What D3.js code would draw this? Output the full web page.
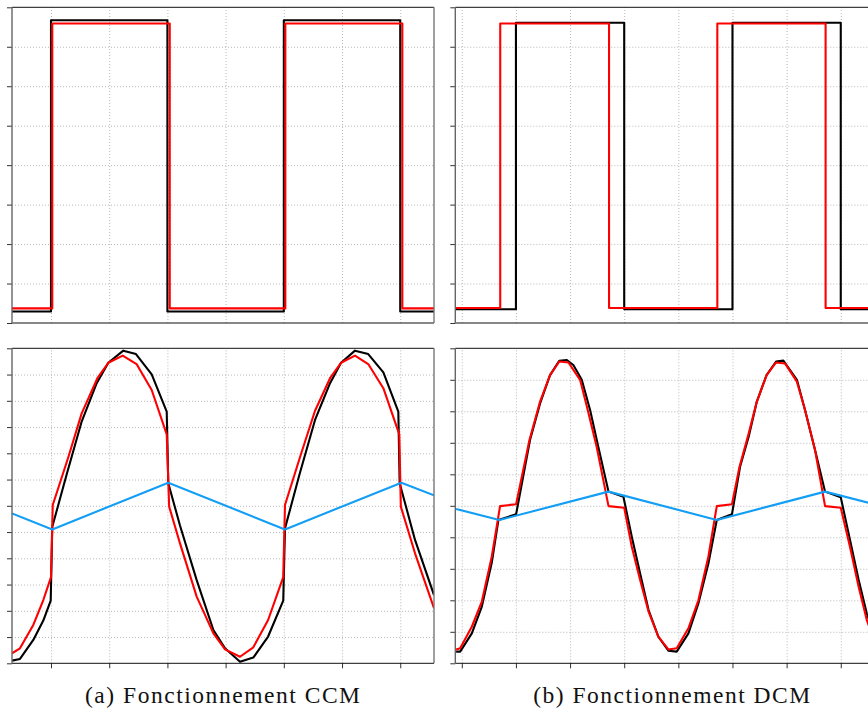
<!DOCTYPE html>
<html>
<head>
<meta charset="utf-8">
<script src="https://cdnjs.cloudflare.com/ajax/libs/d3/7.8.5/d3.min.js"></script>
<style>
  body { margin: 0; background: #fff; }
  .grid line { stroke: #b8b8b8; stroke-width: 1; stroke-dasharray: 1,2; }
  .grid path { display: none; }
  .tk line { stroke: #333; }
  .tk path { display: none; }
  .caption { font-family: "Liberation Serif", "DejaVu Serif", serif; font-size: 23.5px; fill: #111; }
</style>
</head>
<body>
<svg id="fig" width="868" height="711"></svg>
<script>
// gate signals (top row) : [t, v]
var ccmGateBlack = [[-0.67,0.29],[0,0.29],[0,7.67],[2,7.67],[2,0.29],[4,0.29],[4,7.67],[6,7.67],[6,0.29],[6.58,0.29]];
var ccmGateRed = [[-0.67,0.37],[0.022,0.37],[0.022,7.59],[2.04,7.59],[2.04,0.37],[4.026,0.37],[4.026,7.59],[6.036,7.59],[6.036,0.37],[6.58,0.37]];
var dcmGateBlack = [[-0.12,0.35],[1,0.35],[1,7.61],[3,7.61],[3,0.35],[5,0.35],[5,7.61],[7,7.61],[7,0.35],[7.68,0.35]];
var dcmGateRed = [[-0.12,0.38],[0.71,0.38],[0.71,7.59],[2.72,7.59],[2.72,0.38],[4.72,0.38],[4.72,7.59],[6.72,7.59],[6.72,0.38],[7.68,0.38]];

// currents (bottom row)
var ccmBlack = [[-0.67,0.10],[-0.533,0.165],[-0.304,0.89],[-0.132,1.63],[-0.005,2.39],[0.022,5.2],[0.27,7.2],[0.527,9.21],
  [0.785,10.67],[0.985,11.45],[1.242,11.91],[1.46,11.78],[1.73,11.01],[1.988,9.59],[2.015,6.86],[2.216,5.25],[2.503,3.17],
  [2.79,1.27],[2.99,0.57],[3.247,0.06],[3.476,0.22],[3.73,1.02],[3.99,2.39],[4.02,5.14],[4.27,7.2],[4.536,9.27],[4.794,10.67],
  [4.983,11.45],[5.223,11.91],[5.45,11.78],[5.71,11.08],[5.967,9.59],[5.99,6.86],[6.254,4.7],[6.58,2.6]];
var ccmRed = [[-0.67,0.38],[-0.533,0.57],[-0.304,1.46],[-0.132,2.41],[0,3.28],[0.03,6.03],[0.3,7.87],[0.527,9.52],
  [0.797,10.86],[0.985,11.45],[1.232,11.72],[1.47,11.4],[1.73,10.41],[1.988,8.72],[2.03,5.97],[2.216,4.57],[2.503,2.54],
  [2.79,1.14],[2.99,0.53],[3.247,0.25],[3.476,0.61],[3.73,1.65],[3.99,3.28],[4.02,6.03],[4.28,7.87],[4.536,9.62],[4.794,10.86],
  [4.983,11.45],[5.223,11.72],[5.45,11.4],[5.71,10.48],[5.984,8.72],[6.01,5.97],[6.254,4.19],[6.58,2.1]];
var ccmTri = [[-0.67,5.71],[0.022,5.10],[2.015,6.88],[4.02,5.10],[6.02,6.88],[6.58,6.4]];

var dcmBlack = [[-0.105,0.37],[-0.03,0.37],[0.185,0.95],[0.37,1.8],[0.554,3.2],[0.676,4.55],[1.003,4.73],[1.26,7.09],
  [1.446,8.25],[1.63,9.15],[1.80,9.6],[1.94,9.63],[2.06,9.47],[2.216,9.0],[2.37,8.04],[2.52,6.88],[2.71,5.45],[2.985,5.29],
  [3.14,4.02],[3.293,2.86],[3.45,1.69],[3.63,0.85],[3.816,0.40],[3.97,0.37],[4.186,0.95],[4.37,1.9],[4.555,3.17],[4.71,4.55],
  [4.99,4.73],[5.14,6.24],[5.3,7.2],[5.45,8.31],[5.63,9.15],[5.805,9.58],[5.94,9.61],[6.19,9.0],[6.34,8.04],[6.525,6.77],
  [6.71,5.45],[7.0,5.27],[7.17,3.92],[7.33,2.65],[7.48,1.59],[7.6,0.95]];
var dcmRed = [[-0.105,0.44],[-0.03,0.48],[0.185,1.16],[0.37,1.96],[0.554,3.39],[0.707,4.99],[1.003,5.05],[1.25,7.09],
  [1.446,8.31],[1.63,9.15],[1.80,9.58],[1.97,9.55],[2.185,9.0],[2.31,8.15],[2.49,6.88],[2.71,4.99],[3.0,4.94],
  [3.14,3.70],[3.293,2.65],[3.45,1.64],[3.63,0.85],[3.816,0.44],[3.97,0.48],[4.186,1.11],[4.37,2.0],[4.555,3.39],[4.71,4.99],
  [4.99,5.05],[5.13,6.24],[5.3,7.3],[5.45,8.31],[5.63,9.15],[5.805,9.55],[5.97,9.52],[6.19,8.94],[6.34,8.04],[6.525,6.77],
  [6.71,4.99],[7.0,4.94],[7.17,3.70],[7.33,2.43],[7.48,1.38],[7.6,0.8]];
var dcmTri = [[-0.105,4.9],[0.695,4.55],[2.71,5.45],[4.71,4.55],[6.71,5.45],[7.68,5.02]];

var captions = ["(a) Fonctionnement CCM", "(b) Fonctionnement DCM"];

var svg = d3.select("#fig");

var panels = [
  { id: "a1", x0: 12, x1: 434, y0: 7.3, y1: 323, xd: [-0.67, 6.58], yd: [0, 8], xt: d3.range(0, 7), yt: d3.range(0, 9), xTicks: false,
    series: [{ d: ccmGateBlack, c: "#000" }, { d: ccmGateRed, c: "#ff0000" }] },
  { id: "b1", x0: 455.3, x1: 877.3, y0: 7.3, y1: 323, xd: [-0.12, 7.675], yd: [0, 8], xt: d3.range(0, 8), yt: d3.range(0, 9), xTicks: false,
    series: [{ d: dcmGateBlack, c: "#000" }, { d: dcmGateRed, c: "#ff0000" }] },
  { id: "a2", x0: 12, x1: 434, y0: 348.3, y1: 663.3, xd: [-0.67, 6.58], yd: [0, 12], xt: d3.range(0, 7), yt: d3.range(0, 13), xTicks: true,
    series: [{ d: ccmBlack, c: "#000" }, { d: ccmRed, c: "#ff0000" }, { d: ccmTri, c: "#139ef5" }] },
  { id: "b2", x0: 455.3, x1: 877.3, y0: 348.3, y1: 663.3, xd: [-0.12, 7.675], yd: [0, 10], xt: d3.range(0, 8), yt: d3.range(0, 11), xTicks: true,
    series: [{ d: dcmBlack, c: "#000" }, { d: dcmRed, c: "#ff0000" }, { d: dcmTri, c: "#139ef5" }] }
];

panels.forEach(function (p) {
  var x = d3.scaleLinear().domain(p.xd).range([p.x0, p.x1]);
  var y = d3.scaleLinear().domain(p.yd).range([p.y1, p.y0]);
  var w = p.x1 - p.x0, h = p.y1 - p.y0;

  svg.append("clipPath").attr("id", "clip-" + p.id)
    .append("rect").attr("x", p.x0).attr("y", p.y0).attr("width", w).attr("height", h);

  // grid
  svg.append("g").attr("class", "grid")
    .attr("transform", "translate(0," + p.y1 + ")")
    .call(d3.axisBottom(x).tickValues(p.xt).tickSize(-h).tickFormat(""));
  svg.append("g").attr("class", "grid")
    .attr("transform", "translate(" + p.x0 + ",0)")
    .call(d3.axisLeft(y).tickValues(p.yt.slice(1, -1)).tickSize(-w).tickFormat(""));

  var line = d3.line().x(function (d) { return x(d[0]); }).y(function (d) { return y(d[1]); });
  var g = svg.append("g").attr("clip-path", "url(#clip-" + p.id + ")");
  p.series.forEach(function (s) {
    g.append("path").datum(s.d)
      .attr("d", line)
      .attr("fill", "none")
      .attr("stroke", s.c)
      .attr("stroke-width", 2.1)
      .attr("stroke-linejoin", "round");
  });

  // outward ticks
  svg.append("g").attr("class", "tk")
    .attr("transform", "translate(" + p.x0 + ",0)")
    .call(d3.axisLeft(y).tickValues(p.yt).tickSize(5).tickFormat(""));
  if (p.xTicks) {
    svg.append("g").attr("class", "tk")
      .attr("transform", "translate(0," + p.y1 + ")")
      .call(d3.axisBottom(x).tickValues(p.xt).tickSize(5).tickFormat(""));
  }

  // frame
  svg.append("line").attr("x1", p.x0).attr("x2", p.x1).attr("y1", p.y0).attr("y2", p.y0).attr("stroke", "#111");
  svg.append("line").attr("x1", p.x0).attr("x2", p.x1).attr("y1", p.y1).attr("y2", p.y1).attr("stroke", "#111");
  svg.append("line").attr("x1", p.x0).attr("x2", p.x0).attr("y1", p.y0).attr("y2", p.y1).attr("stroke", "#666").attr("stroke-width", 1.4);
  svg.append("line").attr("x1", p.x1).attr("x2", p.x1).attr("y1", p.y0).attr("y2", p.y1).attr("stroke", "#777").attr("stroke-width", 1.4);
});

svg.append("text").attr("class", "caption").attr("x", 222.5).attr("y", 703).attr("text-anchor", "middle")
  .attr("textLength", 275).attr("lengthAdjust", "spacing").text(captions[0]);
svg.append("text").attr("class", "caption").attr("x", 671.7).attr("y", 703).attr("text-anchor", "middle")
  .attr("textLength", 277).attr("lengthAdjust", "spacing").text(captions[1]);
</script>
</body>
</html>
